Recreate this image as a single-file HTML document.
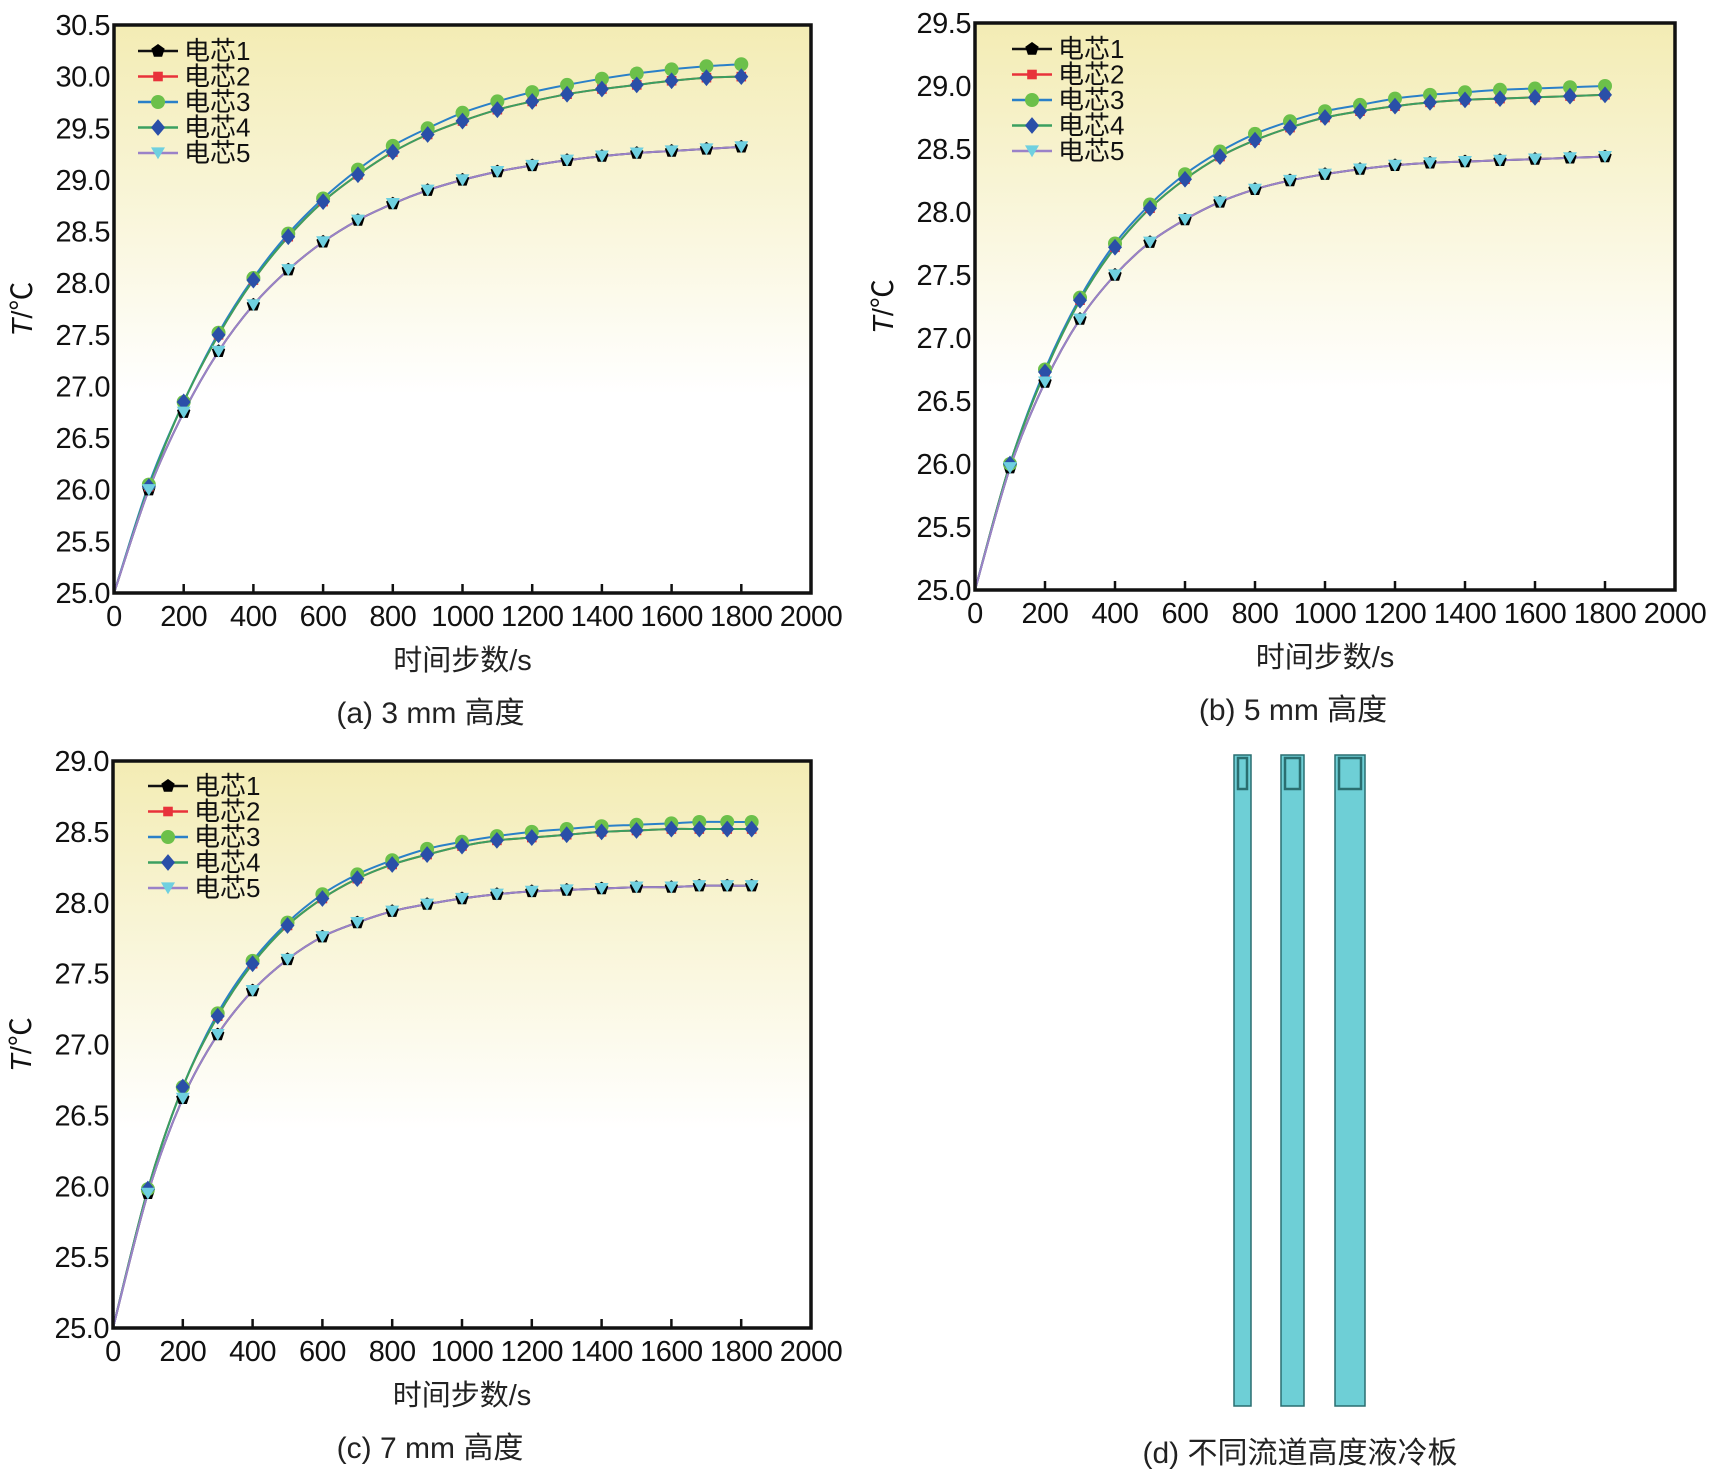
<!DOCTYPE html>
<html><head><meta charset="utf-8"><style>
body{margin:0;background:#fff;width:1727px;height:1476px;overflow:hidden}
svg{font-family:"Liberation Sans","Noto Sans CJK SC",sans-serif}
</style></head><body>
<svg id="s" width="1727" height="1476" xmlns="http://www.w3.org/2000/svg">
<defs><linearGradient id="bg" x1="0" y1="0" x2="0" y2="1"><stop offset="0" stop-color="#f3ecb4"/><stop offset="0.65" stop-color="#ffffff"/></linearGradient></defs>
<g stroke="#2a6e70" stroke-width="1.5" fill="#6ecfd6">
<rect x="1234" y="755" width="17" height="651"/>
<rect x="1238" y="758" width="9" height="31" fill="none" stroke-width="2.5"/>
<rect x="1281" y="755" width="23" height="651"/>
<rect x="1285" y="758" width="15" height="31" fill="none" stroke-width="2.5"/>
<rect x="1335" y="755" width="30" height="651"/>
<rect x="1339" y="758" width="22" height="31" fill="none" stroke-width="2.5"/>
</g>
<text x="1300" y="1463" font-size="30" text-anchor="middle" fill="#222">(d) 不同流道高度液冷板</text>
</svg>
<script>
const xA=[0,100,200,300,400,500,600,700,800,900,1000,1100,1200,1300,1400,1500,1600,1700,1800];
const a3=[25,26.05,26.85,27.52,28.05,28.48,28.82,29.1,29.33,29.5,29.65,29.76,29.85,29.92,29.98,30.03,30.07,30.1,30.12];
const a4=[25,26.03,26.85,27.5,28.03,28.45,28.79,29.05,29.27,29.44,29.57,29.68,29.76,29.83,29.88,29.92,29.96,29.99,30.0];
const a5=[25,26.0,26.75,27.34,27.79,28.13,28.4,28.61,28.77,28.9,29.0,29.08,29.14,29.19,29.23,29.26,29.28,29.3,29.32];
const b3=[25,26.0,26.75,27.32,27.75,28.06,28.3,28.48,28.62,28.72,28.8,28.85,28.9,28.93,28.95,28.97,28.98,28.99,29.0];
const b4=[25,26.0,26.73,27.3,27.72,28.03,28.26,28.44,28.57,28.67,28.75,28.8,28.84,28.87,28.89,28.9,28.91,28.92,28.93];
const b5=[25,25.97,26.65,27.15,27.5,27.76,27.94,28.08,28.18,28.25,28.3,28.34,28.37,28.39,28.4,28.41,28.42,28.43,28.44];
const xC=[0,100,200,300,400,500,600,700,800,900,1000,1100,1200,1300,1400,1500,1600,1680,1760,1830];
const c3=[25,25.98,26.7,27.22,27.59,27.86,28.06,28.2,28.3,28.38,28.43,28.47,28.5,28.52,28.54,28.55,28.56,28.57,28.57,28.57];
const c4=[25,25.98,26.7,27.2,27.57,27.84,28.03,28.17,28.27,28.34,28.4,28.44,28.46,28.48,28.5,28.51,28.52,28.52,28.52,28.52];
const c5=[25,25.95,26.62,27.07,27.38,27.6,27.76,27.86,27.94,27.99,28.03,28.06,28.08,28.09,28.1,28.11,28.11,28.12,28.12,28.12];
const xTicks=[0,200,400,600,800,1000,1200,1400,1600,1800,2000];
const yTicksA=[25.0,25.5,26.0,26.5,27.0,27.5,28.0,28.5,29.0,29.5,30.0,30.5];
const yTicksB=[25.0,25.5,26.0,26.5,27.0,27.5,28.0,28.5,29.0,29.5];
const yTicksC=[25.0,25.5,26.0,26.5,27.0,27.5,28.0,28.5,29.0];
const seriesNames=['电芯1','电芯2','电芯3','电芯4','电芯5'];
const NS='http://www.w3.org/2000/svg';
const svg=document.getElementById('s');
function mk(t,at,p){const e=document.createElementNS(NS,t);for(const k in at)e.setAttribute(k,at[k]);(p||svg).appendChild(e);return e;}
const lineCol=['#111','#e8323a','#2a80c8','#3aa060','#9a82c8'];
const mCol=['#000','#e8323a','#6cc04a','#2a4fa8','#6fd0e0'];
function marker(g,i,x,y,s){
 let e;
 if(i===0){let p=[];for(let k=0;k<5;k++){const a=-Math.PI/2+k*2*Math.PI/5;p.push((x+s*Math.cos(a)).toFixed(1)+','+(y+s*Math.sin(a)).toFixed(1));}e=mk('polygon',{points:p.join(' '),fill:mCol[0]},g);}
 else if(i===1)e=mk('rect',{x:x-s*0.8,y:y-s*0.8,width:s*1.6,height:s*1.6,fill:mCol[1]},g);
 else if(i===2)e=mk('circle',{cx:x,cy:y,r:s,fill:mCol[2]},g);
 else if(i===3)e=mk('polygon',{points:`${x},${y-s*1.2} ${x+s},${y} ${x},${y+s*1.2} ${x-s},${y}`,fill:mCol[3]},g);
 else e=mk('polygon',{points:`${x-s},${y-s*0.8} ${x+s},${y-s*0.8} ${x},${y+s*0.9}`,fill:mCol[4]},g);
 
 
}
function smooth(pts){
 let d='M'+pts[0][0].toFixed(1)+','+pts[0][1].toFixed(1);
 for(let i=0;i<pts.length-1;i++){
  const p0=pts[Math.max(0,i-1)],p1=pts[i],p2=pts[i+1],p3=pts[Math.min(pts.length-1,i+2)];
  const c1=[p1[0]+(p2[0]-p0[0])/6,p1[1]+(p2[1]-p0[1])/6],c2=[p2[0]-(p3[0]-p1[0])/6,p2[1]-(p3[1]-p1[1])/6];
  d+=` C${c1[0].toFixed(1)},${c1[1].toFixed(1)} ${c2[0].toFixed(1)},${c2[1].toFixed(1)} ${p2[0].toFixed(1)},${p2[1].toFixed(1)}`;
 }
 return d;
}
function chart(id,L,R,T,B,ymax,yt,xs,s3,s4,s5,leg,cap){
 const g=mk('g',{});
 
 
 const X=v=>L+(R-L)*v/2000, Y=v=>B-(B-T)*(v-25)/(ymax-25);
 mk('rect',{x:L,y:T,width:R-L,height:B-T,fill:'url(#bg)'},g);
 const data=[s5,s4,s3,s4,s5];
 for(let i=0;i<5;i++){
  const pl=mk('path',{d:smooth(xs.map((x,k)=>[X(x),Y(data[i][k])])),fill:'none',stroke:lineCol[i],'stroke-width':2},g);
  
  
 }
 for(let i=0;i<5;i++)for(let k=1;k<xs.length;k++)marker(g,i,X(xs[k]),Y(data[i][k]),i===1?6:7);
 const fr=mk('rect',{x:L,y:T,width:R-L,height:B-T,fill:'none',stroke:'#111','stroke-width':3.5},g);
 
 
 xTicks.forEach(v=>{
  mk('line',{x1:X(v),x2:X(v),y1:B,y2:B-9,stroke:'#111','stroke-width':2.5},g);
  const t=mk('text',{x:X(v),y:B+33,'font-size':29,'text-anchor':'middle',fill:'#111','letter-spacing':'-0.5'},g);t.textContent=String(v);
  
  
 });
 yt.forEach(v=>{
  const t=mk('text',{x:L-4,y:Y(v)+10,'font-size':29,'text-anchor':'end',fill:'#111','letter-spacing':'-0.5'},g);t.textContent=v.toFixed(1);
  
  
 });
 const xt=mk('text',{x:(L+R)/2,y:B+77,'font-size':29,'text-anchor':'middle',fill:'#222'},g);xt.textContent='时间步数/s';
 
 
 const yl=mk('text',{x:0,y:0,'font-size':29,'text-anchor':'middle',fill:'#111',transform:`translate(${L-82},${(T+B)/2}) rotate(-90)`},g);
 yl.innerHTML='<tspan font-style="italic">T</tspan>/℃';
 
 
 const c=mk('text',{x:(L+R)/2-32,y:B+130,'font-size':30,'text-anchor':'middle',fill:'#222'},g);c.textContent=cap;
 
 
 for(let i=0;i<5;i++){
  const ly=leg[1]+i*25.5;
  const lg=mk('g',{},g);
  
  
  mk('line',{x1:leg[0]-20,x2:leg[0]+20,y1:ly,y2:ly,stroke:lineCol[i],'stroke-width':2.5},lg);
  marker(lg,i,leg[0],ly,i===1?6:7);
  const t=mk('text',{x:leg[0]+26,y:ly+9,'font-size':26,fill:'#111'},lg);t.textContent=seriesNames[i];
 }
}
chart('a',114,811,25,593,30.5,yTicksA,xA,a3,a4,a5,[158,51],'(a) 3 mm 高度');
chart('b',975,1675,23,590,29.5,yTicksB,xA,b3,b4,b5,[1032,49],'(b) 5 mm 高度');
chart('c',113,811,761,1328,29.0,yTicksC,xC,c3,c4,c5,[168,786],'(c) 7 mm 高度');
</script>
</body></html>
